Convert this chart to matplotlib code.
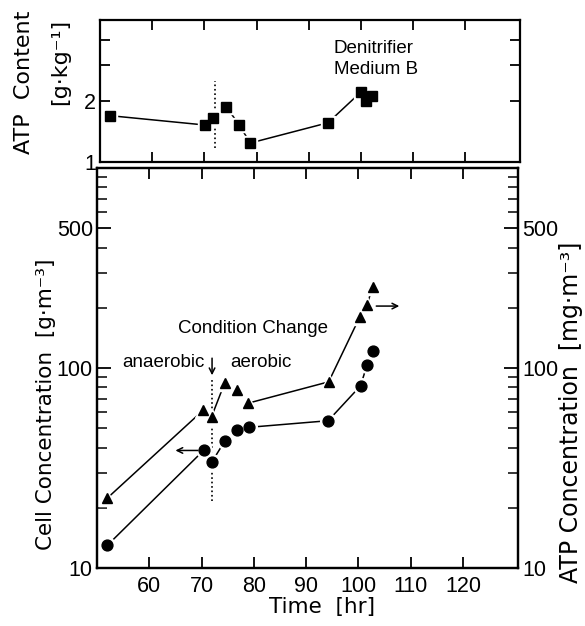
import matplotlib
matplotlib.use("Agg")
import matplotlib.pyplot as plt
from matplotlib.ticker import FixedLocator, NullFormatter, FixedFormatter

plt.rcParams['font.family'] = ['Liberation Sans', 'DejaVu Sans']
LABEL_FONT = ['DejaVu Sans']

# --- data -------------------------------------------------------------
time_cell = [52, 70.5, 72, 74.4, 76.7, 79, 94.2, 100.4, 101.6, 102.7]
cell_conc = [13, 39, 34, 43, 49, 50.5, 54.5, 81.5, 103, 122]

time_atp = [52, 70.3, 71.9, 74.4, 76.8, 78.9, 94.3, 100.2, 101.6, 102.7]
atp_conc = [22.4, 61.5, 57, 84, 77.7, 66.7, 85.3, 179, 206, 254]

time_content = [52, 70.2, 71.7, 74.2, 76.7, 78.8, 93.7, 100, 101, 102.2]
atp_content = [1.69, 1.52, 1.65, 1.87, 1.52, 1.24, 1.56, 2.21, 2.0, 2.11]

# index runs joined by lines
cell_runs = [(0, 2), (2, 10)]
atp_runs = [(0, 2), (2, 4), (4, 5), (5, 10)]
content_runs = [(0, 3), (3, 10)]

condition_change = 72
x_ticks = [60, 70, 80, 90, 100, 110, 120]
conc_ticks = [10, 100, 500]
content_ticks = [1, 2]

FS_TICK = 15.5
FS_LABEL = 15.5
FS_NOTE = 13.5

fig = plt.figure(figsize=(5.85, 6.26), dpi=100)
W, H = 585, 626
ax = fig.add_axes([97 / W, 1 - 568 / H, 421 / W, 400 / H])
axt = fig.add_axes([100 / W, 1 - 162 / H, 420 / W, 142 / H])
ax2 = ax.twinx()


def draw_series(a, xs, ys, runs, marker, ms):
    for s, e in runs:
        a.plot(xs[s:e], ys[s:e], color='black', lw=1.1, zorder=2)
    a.plot(xs, ys, ls='none', marker=marker, ms=ms + 3.5, color='white',
           mec='white', zorder=3)
    a.plot(xs, ys, ls='none', marker=marker, ms=ms, color='black',
           mec='black', zorder=4)


# --- main panel ---------------------------------------------------------
for a in (ax, ax2):
    a.set_xlim(50, 130.5)
    a.set_yscale('log')
    a.set_ylim(10, 1000)
    a.set_facecolor('none')

draw_series(ax, time_cell, cell_conc, cell_runs, 'o', 7.8)
draw_series(ax2, time_atp, atp_conc, atp_runs, '^', 7.5)

ax.plot([condition_change, condition_change], [21.6, 89], ls=':', color='black',
        lw=1.2, zorder=1)
ax.annotate('', xy=(condition_change, 92), xytext=(condition_change, 112),
            arrowprops=dict(arrowstyle='->', color='black', lw=1.1,
                            shrinkA=0, shrinkB=0))
ax.text(79.8, 157, 'Condition Change', ha='center', va='center',
        fontsize=FS_NOTE)
ax.text(70.6, 106, 'anaerobic', ha='right', va='center', fontsize=FS_NOTE)
ax.text(75.4, 106, 'aerobic', ha='left', va='center', fontsize=FS_NOTE)

ax.annotate('', xy=(65.0, 38.7), xytext=(69.3, 38.7),
            arrowprops=dict(arrowstyle='->', color='black', lw=1.1,
                            shrinkA=0, shrinkB=0))
ax2.annotate('', xy=(107.8, 204), xytext=(103.4, 204),
             arrowprops=dict(arrowstyle='->', color='black', lw=1.1,
                             shrinkA=0, shrinkB=0))

ax.set_xticks(x_ticks)
ax.set_xticklabels([str(t) for t in x_ticks])
for a in (ax, ax2):
    a.yaxis.set_major_locator(FixedLocator(conc_ticks))
    a.yaxis.set_major_formatter(FixedFormatter([str(t) for t in conc_ticks]))
    a.yaxis.set_minor_locator(FixedLocator(
        [v * d for d in (10, 100) for v in range(2, 10) if v * d != 500]))
    a.yaxis.set_minor_formatter(NullFormatter())

ax.tick_params(axis='x', which='major', direction='in', top=True, bottom=True,
               length=8, width=1.3, labelsize=FS_TICK, pad=6)
ax.tick_params(axis='y', which='major', direction='in', left=True, right=False,
               length=10, width=1.3, labelsize=FS_TICK, pad=3)
ax.tick_params(axis='y', which='minor', direction='in', left=True, right=False,
               length=7, width=1.1)
ax2.tick_params(axis='y', which='major', direction='in', right=True,
                length=10, width=1.3, labelsize=FS_TICK, pad=3)
ax2.tick_params(axis='y', which='minor', direction='in', right=True,
                length=7, width=1.1)

for a in (ax, ax2):
    for sp in a.spines.values():
        sp.set_linewidth(1.6)

ax.set_xlabel('Time  [hr]', fontsize=FS_LABEL, family=LABEL_FONT)
ax.xaxis.set_label_coords(0.534, -0.072)
ax.set_ylabel('Cell Concentration  [g·m⁻³]', fontsize=FS_LABEL,
              family=LABEL_FONT)
ax.yaxis.set_label_coords(-0.097, 0.41)
ax2.set_ylabel('ATP Concentration  [mg·m⁻³]', fontsize=FS_LABEL + 1.5,
               family=LABEL_FONT)
ax2.yaxis.set_label_coords(1.097, 0.39)

# --- top panel: ATP content ----------------------------------------------
axt.set_xlim(50, 130.5)
axt.set_yscale('log')
axt.set_ylim(1, 5)
draw_series(axt, time_content, atp_content, content_runs, 's', 6.5)
axt.plot([condition_change, condition_change], [1.17, 2.5], ls=':',
         color='black', lw=1.2, zorder=1)
axt.text(94.8, 3.2, 'Denitrifier\nMedium B', ha='left', va='center',
         fontsize=FS_NOTE, linespacing=1.3)

axt.set_xticks(x_ticks)
axt.set_xticklabels([])
axt.yaxis.set_major_locator(FixedLocator(content_ticks))
axt.yaxis.set_major_formatter(FixedFormatter([str(t) for t in content_ticks]))
axt.yaxis.set_minor_locator(FixedLocator([3, 4]))
axt.yaxis.set_minor_formatter(NullFormatter())
axt.tick_params(axis='x', which='major', direction='in', top=True, bottom=True,
                length=7, width=1.3)
axt.tick_params(axis='y', which='both', direction='in', left=True, right=True,
                length=7, width=1.3, labelsize=FS_TICK, pad=3)
for sp in axt.spines.values():
    sp.set_linewidth(1.6)

fig.text(24 / W, 1 - 82 / H, 'ATP  Content', rotation=90, ha='center',
         va='center', fontsize=FS_LABEL + 0.5, family=LABEL_FONT)
fig.text(60 / W, 1 - 62 / H, '[g·kg⁻¹]', rotation=90, ha='center',
         va='center', fontsize=FS_LABEL + 0.5, family=LABEL_FONT)

fig.savefig('out.png', dpi=100)
